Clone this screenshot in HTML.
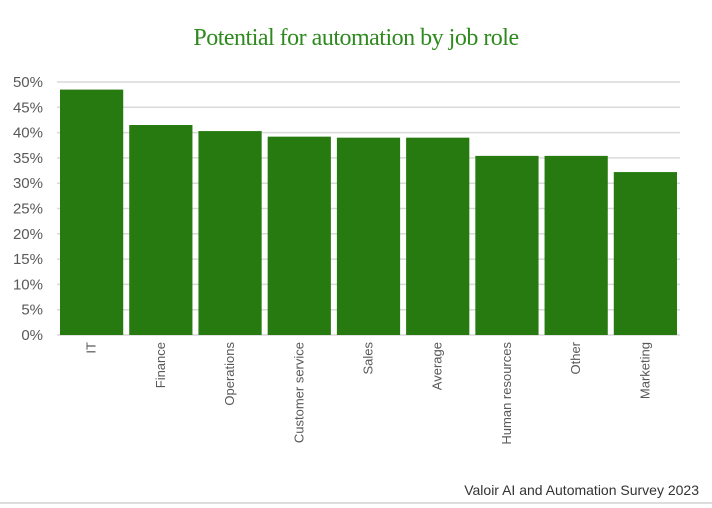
<!DOCTYPE html>
<html><head><meta charset="utf-8"><style>
body{margin:0;background:#fff;width:712px;height:508px;overflow:hidden}
svg{display:block;font-family:"Liberation Sans",sans-serif}
</style></head><body>
<svg id="c" width="712" height="508">
<text x="356" y="45" text-anchor="middle" font-family="Liberation Serif, serif" font-size="24" fill="#2e8a1e" letter-spacing="-0.5">Potential for automation by job role</text>
<g id="grid"></g><g id="bars"></g><g id="labels"></g>
<text x="699" y="495" text-anchor="end" font-size="14" fill="#333">Valoir AI and Automation Survey 2023</text>
<line x1="0" y1="503" x2="712" y2="503" stroke="#ddd" stroke-width="2"/>
</svg>
<script>
const categories=["IT","Finance","Operations","Customer service","Sales","Average","Human resources","Other","Marketing"];
const values=[48.5,41.5,40.3,39.2,39.0,39.0,35.4,35.4,32.2];
const ticks=[0,5,10,15,20,25,30,35,40,45,50];
const NS="http://www.w3.org/2000/svg";
const x0=57,x1=680,y0=335,y1=82,maxV=50;
const band=(x1-x0)/categories.length;
const y=v=>y0-(v/maxV)*(y0-y1);
const xb=i=>x0+i*band;
function mk(t,a,p){const e=document.createElementNS(NS,t);for(const k in a)e.setAttribute(k,a[k]);p.appendChild(e);return e;}
const g=document.getElementById('grid');
ticks.forEach(t=>{
 const l=mk('line',{x1:x0,x2:x1,y1:y(t),y2:y(t),stroke:'#d9d9d9','stroke-width':1.5},g);
 
 
 const tx=mk('text',{x:43,y:y(t)+5,'text-anchor':'end','font-size':15,fill:'#595959'},g);
 tx.textContent=t+'%';
 
 
});
const b=document.getElementById('bars'),lb=document.getElementById('labels');
values.forEach((v,i)=>{
 const r=mk('rect',{x:xb(i)+3,y:y(v),width:band-6,height:y0-y(v),fill:'#267a10'},b);
 
 
 const cx=xb(i)+band/2;
 const t=mk('text',{x:0,y:0,'text-anchor':'end','font-size':13,fill:'#595959',transform:`translate(${cx+4},${y0+7}) rotate(-90)`},lb);
 t.textContent=categories[i];
 
 
});
</script>
</body></html>
